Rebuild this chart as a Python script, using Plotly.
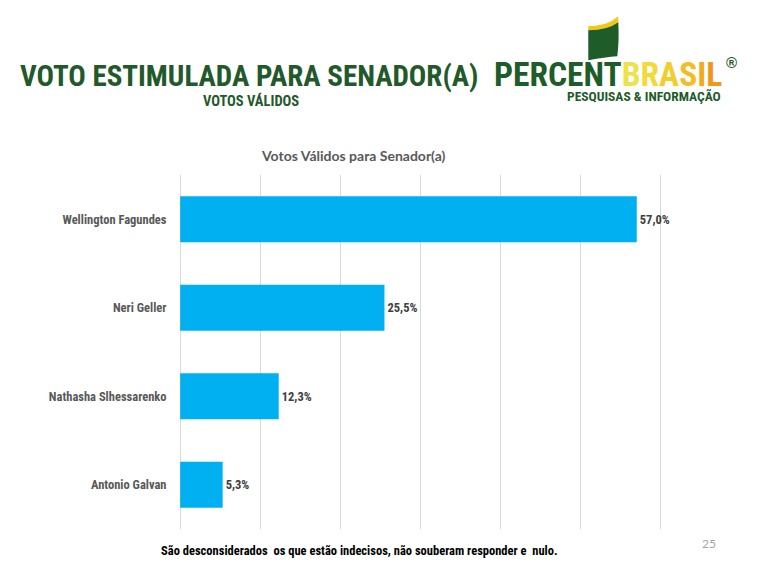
"""
Voto estimulado para Senador(a) - votos válidos (PercentBrasil)
"""
import plotly.graph_objects as go

# dados
candidatos = ["Wellington Fagundes", "Neri Geller", "Nathasha Slhessarenko", "Antonio Galvan"]
votos = [57.0, 25.5, 12.3, 5.3]
eixo_x = [0, 10, 20, 30, 40, 50, 60]

# a página tem 8px de margem no body, então a figura fica 8px menor
OFF = 8
W, H = 760 - OFF, 570 - OFF
K = 480.5 / 60          # px por ponto percentual
PAD = 0.15              # folga para as linhas de grade em 0 e 60 aparecerem
M = dict(l=180 - OFF - PAD * K, r=W - (660.5 - OFF + PAD * K), t=175 - OFF, b=H - (529.5 - OFF))
NARROW = "Liberation Sans Narrow, Arial Narrow, Roboto Condensed, Liberation Sans, sans-serif"
VERDE = "#22592B"
VERDE_LOGO = "#1E5C2A"


def px(x):
    # pixel da tela -> paper (x)
    return (x - OFF - M["l"]) / (W - M["l"] - M["r"])


def py(y):
    # pixel da tela -> paper (y)
    return 1 - (y - OFF - M["t"]) / (H - M["t"] - M["b"])


rotulos = [f"{v:.1f}%".replace(".", ",") for v in votos]

fig = go.Figure()
fig.add_trace(
    go.Bar(
        x=votos,
        y=candidatos,
        orientation="h",
        width=0.52,
        marker=dict(color="#00B0F0", line=dict(width=0)),
        text=rotulos,
        textposition="outside",
        cliponaxis=False,
        textfont=dict(family=NARROW, size=12.5, color="#404040", weight="bold"),
        hoverinfo="skip",
    )
)

fig.update_xaxes(
    range=[-PAD, 60 + PAD],
    tickvals=eixo_x,
    showticklabels=False,
    showgrid=True,
    gridcolor="#D9D9D9",
    gridwidth=1,
    zeroline=False,
    showline=False,
)
fig.update_yaxes(
    autorange="reversed",
    ticks="outside",
    ticklen=9,
    tickcolor="rgba(0,0,0,0)",
    tickfont=dict(family=NARROW, size=12.5, color="#595959", weight="bold"),
    showgrid=False,
    showline=False,
)

brasil = [("B", "#EEE24C"), ("R", "#F1DA3C"), ("A", "#F4CC2E"),
          ("S", "#F4BD25"), ("I", "#F2AB1F"), ("L", "#EE981C")]
logo = f"<span style='color:{VERDE_LOGO}'>PERCENT</span>" + "".join(
    f"<span style='color:{c}'>{l}</span>" for l, c in brasil)

annotations = [
    # título do slide
    dict(text="VOTO ESTIMULADA PARA SENADOR(A)", x=px(18), y=py(76), xanchor="left", yanchor="middle",
         font=dict(family=NARROW, size=29, color=VERDE, weight="bold")),
    dict(text="VOTOS VÁLIDOS", x=px(251), y=py(101), xanchor="center", yanchor="middle",
         font=dict(family=NARROW, size=14.5, color=VERDE, weight="bold")),
    # título do gráfico
    dict(text="Votos Válidos para Senador(a)", x=px(353), y=py(155), xanchor="center", yanchor="middle",
         font=dict(family="Lato, Open Sans, sans-serif", size=14, color="#595959", weight="bold")),
    # logo
    dict(text=logo, x=px(492), y=py(74), xanchor="left", yanchor="middle",
         font=dict(family=NARROW, size=33.5, weight="bold")),
    dict(text="®", x=px(731), y=py(62), xanchor="center", yanchor="middle",
         font=dict(family="Liberation Sans, sans-serif", size=15, color=VERDE_LOGO, weight="bold")),
    dict(text="PESQUISAS & INFORMAÇÃO", x=px(723), y=py(96), xanchor="right", yanchor="middle",
         font=dict(family=NARROW, size=13.5, color=VERDE_LOGO, weight="bold")),
    # rodapé
    dict(text="São desconsiderados  os que estão indecisos, não souberam responder e  nulo.",
         x=px(359), y=py(551), xanchor="center", yanchor="middle",
         font=dict(family=NARROW, size=12.5, color="#000000", weight="bold")),
    dict(text="25", x=px(709), y=py(544), xanchor="center", yanchor="middle",
         font=dict(family="Lato, Open Sans, sans-serif", size=12, color="#A6A6A6")),
]
for a in annotations:
    a.update(xref="paper", yref="paper", showarrow=False)

# bandeira do logo
shapes = [
    dict(type="path", xref="paper", yref="paper", line=dict(width=0), fillcolor="#F2C811",
         path=(f"M {px(588)},{py(26)} Q {px(607)},{py(26)} {px(618)},{py(16)} "
               f"L {px(618)},{py(22)} Q {px(607)},{py(30)} {px(588)},{py(30)} Z")),
    dict(type="path", xref="paper", yref="paper", line=dict(width=0), fillcolor=VERDE_LOGO,
         path=(f"M {px(588)},{py(30)} Q {px(607)},{py(30)} {px(618)},{py(22)} "
               f"Q {px(619)},{py(40)} {px(617)},{py(56)} Q {px(605)},{py(57)} {px(588)},{py(60)} Z")),
]

fig.update_layout(
    width=W,
    height=H,
    margin=M,
    plot_bgcolor="white",
    paper_bgcolor="white",
    showlegend=False,
    bargap=0.48,
    annotations=annotations,
    shapes=shapes,
)

fig.write_html("out.html")
